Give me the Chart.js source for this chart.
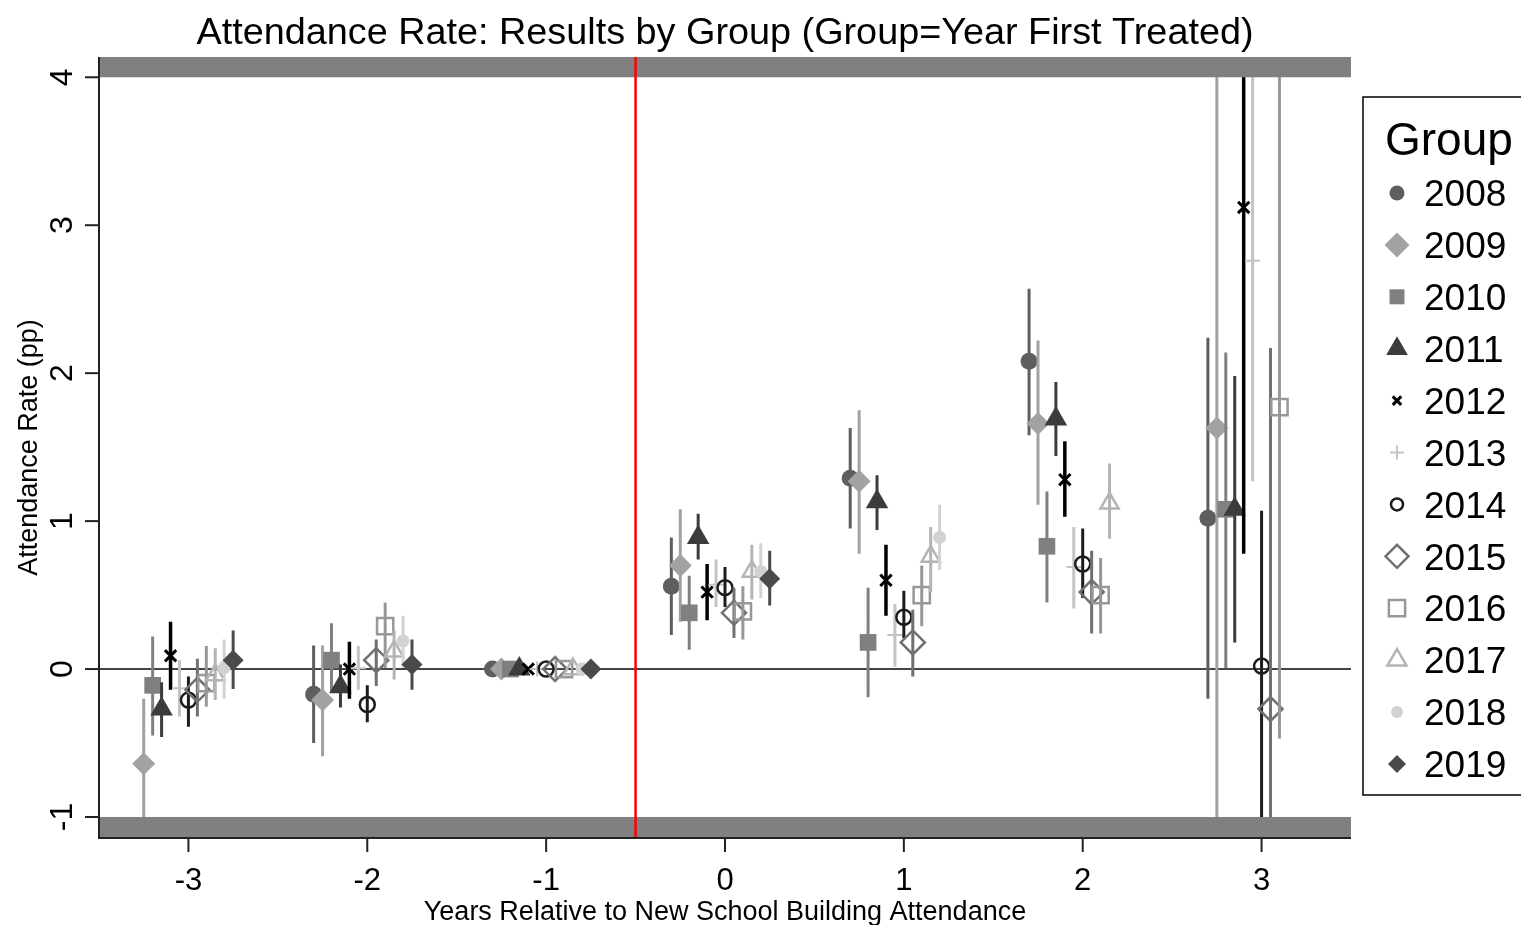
<!DOCTYPE html>
<html>
<head>
<meta charset="utf-8">
<title>Attendance Rate: Results by Group</title>
<script src="https://cdn.jsdelivr.net/npm/chart.js@4.4.1/dist/chart.umd.min.js"></script>
<style>
  html, body { margin: 0; padding: 0; background: #fff; }
  #grafico { display: block; }
</style>
</head>
<body>
<canvas id="grafico" width="1521" height="925"></canvas>
<script>
// years relative to the first year in the new building
const relYears = [-3, -2, -1, 0, 1, 2, 3]
const groups = ["2008", "2009", "2010", "2011", "2012", "2013", "2014", "2015", "2016", "2017", "2018", "2019"]
const xTicks = [-3, -2, -1, 0, 1, 2, 3]
const yTicks = [-1, 0, 1, 2, 3, 4]

// point estimates (pp), null = group not observed that year
const est2008 = [null, -0.17, 0, 0.56, 1.29, 2.08, 1.02]
const est2009 = [-0.64, -0.21, 0, 0.70, 1.27, 1.66, 1.63]
const est2010 = [-0.11, 0.06, 0, 0.38, 0.18, 0.83, 1.08]
const est2011 = [-0.27, -0.12, 0, 0.89, 1.13, 1.69, 1.08]
const est2012 = [0.09, 0.00, 0, 0.52, 0.60, 1.28, 3.12]
const est2013 = [-0.13, 0.005, 0, 0.57, 0.23, 0.69, 2.76]
const est2014 = [-0.21, -0.24, 0, 0.55, 0.35, 0.71, 0.02]
const est2015 = [-0.14, 0.06, 0, 0.38, 0.18, 0.52, -0.27]
const est2016 = [-0.095, 0.29, 0, 0.39, 0.50, 0.50, 1.77]
const est2017 = [-0.04, 0.12, 0, 0.66, 0.76, 1.12, null]
const est2018 = [0.01, 0.19, 0, 0.66, 0.89, null, null]
const est2019 = [0.06, 0.03, 0, 0.61, null, null, null]

// confidence interval bounds
const lo2008 = [null, -0.50, null, 0.23, 0.95, 1.58, -0.20]
const hi2008 = [null, 0.16, null, 0.89, 1.63, 2.57, 2.24]
const lo2009 = [-1.50, -0.59, null, 0.32, 0.78, 1.11, -1.50]
const hi2009 = [-0.20, 0.16, null, 1.08, 1.75, 2.22, 4.60]
const lo2010 = [-0.45, -0.16, null, 0.13, -0.19, 0.45, 0.005]
const hi2010 = [0.22, 0.31, null, 0.63, 0.55, 1.20, 2.14]
const lo2011 = [-0.46, -0.26, null, 0.74, 0.94, 1.44, 0.18]
const hi2011 = [-0.09, 0.03, null, 1.05, 1.31, 1.94, 1.98]
const lo2012 = [-0.14, -0.20, null, 0.33, 0.36, 1.03, 0.78]
const hi2012 = [0.32, 0.185, null, 0.71, 0.84, 1.54, 4.60]
const lo2013 = [-0.32, -0.14, null, 0.42, 0.016, 0.41, 1.27]
const hi2013 = [0.06, 0.155, null, 0.74, 0.44, 0.96, 4.60]
const lo2014 = [-0.39, -0.36, null, 0.42, 0.21, 0.48, -1.50]
const hi2014 = [-0.05, -0.11, null, 0.69, 0.53, 0.95, 1.07]
const lo2015 = [-0.32, -0.115, null, 0.21, -0.05, 0.24, -1.50]
const hi2015 = [0.07, 0.20, null, 0.55, 0.40, 0.80, 2.17]
const lo2016 = [-0.255, 0.005, null, 0.20, 0.29, 0.24, -0.47]
const hi2016 = [0.155, 0.45, null, 0.56, 0.70, 0.75, 4.60]
const lo2017 = [-0.21, -0.07, null, 0.47, 0.52, 0.88, null]
const hi2017 = [0.14, 0.26, null, 0.84, 0.96, 1.39, null]
const lo2018 = [-0.20, 0.01, null, 0.48, 0.67, null, null]
const hi2018 = [0.20, 0.36, null, 0.85, 1.11, null, null]
const lo2019 = [-0.135, -0.14, null, 0.43, null, null, null]
const hi2019 = [0.26, 0.20, null, 0.80, null, null, null]

const estimates = [est2008, est2009, est2010, est2011, est2012, est2013, est2014, est2015, est2016, est2017, est2018, est2019]
const lows = [lo2008, lo2009, lo2010, lo2011, lo2012, lo2013, lo2014, lo2015, lo2016, lo2017, lo2018, lo2019]
const highs = [hi2008, hi2009, hi2010, hi2011, hi2012, hi2013, hi2014, hi2015, hi2016, hi2017, hi2018, hi2019]

// marker look per group (stata-ish grayscale)
const colores = ["#5e5e5e", "#a2a2a2", "#808080", "#3c3c3c", "#000000", "#c4c4c4", "#1c1c1c", "#707070", "#989898", "#b4b4b4", "#d2d2d2", "#4a4a4a"]
const estilos = ["circle", "rectRot", "rect", "triangle", "crossRot", "cross", "circle", "rectRot", "rect", "triangle", "circle", "rectRot"]
const radios = [8.5, 11.5, 11.8, 13, 8, 7.5, 7.5, 12, 11.5, 10.5, 6.5, 10.5]
const radiosLeyenda = [7.5, 12.5, 10.6, 12.5, 6, 7, 6, 11.5, 11.5, 11, 6, 9]
const rellenos = [true, true, true, true, false, false, false, false, false, false, true, true]
const grosor = [0, 0, 0, 0, 3, 2, 2.5, 2.5, 2.5, 2.5, 0, 0]

const FUENTE = "'Liberation Sans', Arial, Helvetica, sans-serif"

const datasets = []
groups.forEach((g, i) => {
    const desplazamiento = -0.3 + 0.05 * i // groups side by side around each year
    const tramos = []
    relYears.forEach((t, j) => {
        if (lows[i][j] == null) return
        tramos.push({ x: t + desplazamiento, y: lows[i][j] })
        tramos.push({ x: t + desplazamiento, y: highs[i][j] })
        tramos.push({ x: t + desplazamiento, y: null }) // corta la linea
    })
    datasets.push({
        label: g + " CI",
        data: tramos,
        showLine: true,
        spanGaps: false,
        borderColor: colores[i],
        borderWidth: i === 4 ? 3.5 : 3,
        borderCapStyle: "butt",
        pointRadius: 0,
        order: 1000 - 2 * i
    })
    const puntos = []
    relYears.forEach((t, j) => {
        if (estimates[i][j] == null) return
        puntos.push({ x: t + desplazamiento, y: estimates[i][j] })
    })
    datasets.push({
        label: g,
        data: puntos,
        showLine: false,
        pointStyle: estilos[i],
        pointRadius: radios[i],
        pointBackgroundColor: rellenos[i] ? colores[i] : "rgba(0,0,0,0)",
        pointBorderColor: colores[i],
        pointBorderWidth: grosor[i],
        order: 999 - 2 * i
    })
})

const marcoStata = {
    id: "marcoStata",
    beforeDatasetsDraw(chart) {
        const { ctx, chartArea, scales } = chart
        const y0 = scales.y.getPixelForValue(0)
        ctx.save()
        ctx.strokeStyle = "#444444"
        ctx.lineWidth = 2
        ctx.beginPath()
        ctx.moveTo(chartArea.left, y0)
        ctx.lineTo(chartArea.right, y0)
        ctx.stroke()
        ctx.restore()
    },
    afterDatasetsDraw(chart) {
        const { ctx, chartArea, scales } = chart
        const { left, right, top, bottom } = chartArea
        const xs = scales.x, ys = scales.y
        ctx.save()

        // gray bands outside the [-1, 4] range
        ctx.fillStyle = "#808080"
        const y4 = ys.getPixelForValue(4)
        const yM1 = ys.getPixelForValue(-1)
        ctx.fillRect(left, top, right - left, y4 - top)
        ctx.fillRect(left, yM1, right - left, bottom - yM1)

        // treatment start
        const xr = xs.getPixelForValue(-0.5)
        ctx.strokeStyle = "#ff0000"
        ctx.lineWidth = 2.5
        ctx.beginPath()
        ctx.moveTo(xr, top)
        ctx.lineTo(xr, bottom)
        ctx.stroke()

        // axes
        ctx.strokeStyle = "#222222"
        ctx.lineWidth = 2
        ctx.beginPath()
        ctx.moveTo(left, top)
        ctx.lineTo(left, bottom)
        ctx.lineTo(right, bottom)
        ctx.stroke()

        ctx.fillStyle = "#000000"
        ctx.lineWidth = 2
        ctx.font = "31px " + FUENTE
        ctx.textAlign = "center"
        ctx.textBaseline = "alphabetic"
        xTicks.forEach(v => {
            const px = xs.getPixelForValue(v)
            ctx.beginPath()
            ctx.moveTo(px, bottom)
            ctx.lineTo(px, bottom + 14)
            ctx.stroke()
            ctx.fillText(String(v), px, 890)
        })
        ctx.font = "32px " + FUENTE
        yTicks.forEach(v => {
            const py = ys.getPixelForValue(v)
            ctx.beginPath()
            ctx.moveTo(left - 14, py)
            ctx.lineTo(left, py)
            ctx.stroke()
            ctx.save()
            ctx.translate(72, py)
            ctx.rotate(-Math.PI / 2)
            ctx.fillText(String(v), 0, 0)
            ctx.restore()
        })

        // titles
        ctx.font = "37.8px " + FUENTE
        ctx.fillText("Attendance Rate: Results by Group (Group=Year First Treated)", (left + right) / 2, 44)
        ctx.font = "27px " + FUENTE
        ctx.fillText("Years Relative to New School Building Attendance", (left + right) / 2, 920)
        ctx.save()
        ctx.translate(37, (top + bottom) / 2)
        ctx.rotate(-Math.PI / 2)
        ctx.fillText("Attendance Rate (pp)", 0, 0)
        ctx.restore()

        // legend box on the right
        ctx.fillStyle = "#ffffff"
        ctx.fillRect(1363, 97, 170, 698)
        ctx.strokeStyle = "#000000"
        ctx.lineWidth = 1.5
        ctx.strokeRect(1363, 97, 170, 698)
        ctx.fillStyle = "#000000"
        ctx.textAlign = "left"
        ctx.font = "46px " + FUENTE
        ctx.fillText("Group", 1385, 155)
        ctx.font = "37px " + FUENTE
        groups.forEach((g, i) => {
            const cy = 193 + 51.9 * i
            ctx.save()
            ctx.fillStyle = rellenos[i] ? colores[i] : "rgba(0,0,0,0)"
            ctx.strokeStyle = colores[i]
            ctx.lineWidth = grosor[i]
            Chart.helpers.drawPoint(ctx, {
                pointStyle: estilos[i],
                radius: radiosLeyenda[i],
                rotation: 0,
                borderWidth: grosor[i]
            }, 1397, cy)
            ctx.restore()
            ctx.fillText(g, 1424, cy + 13.2)
        })
        ctx.restore()
    }
}

const grafico = new Chart(document.querySelector("#grafico"), {
    type: "scatter",
    data: { datasets },
    options: {
        responsive: false,
        animation: false,
        events: [],
        devicePixelRatio: 1,
        layout: { padding: { left: 99, right: 170, top: 57, bottom: 87 } },
        scales: {
            x: { type: "linear", min: -3.5, max: 3.5, display: false },
            y: { type: "linear", min: -1.142, max: 4.137, display: false }
        },
        plugins: {
            legend: { display: false },
            tooltip: { enabled: false },
            title: { display: false }
        }
    },
    plugins: [marcoStata]
})
</script>
</body>
</html>
